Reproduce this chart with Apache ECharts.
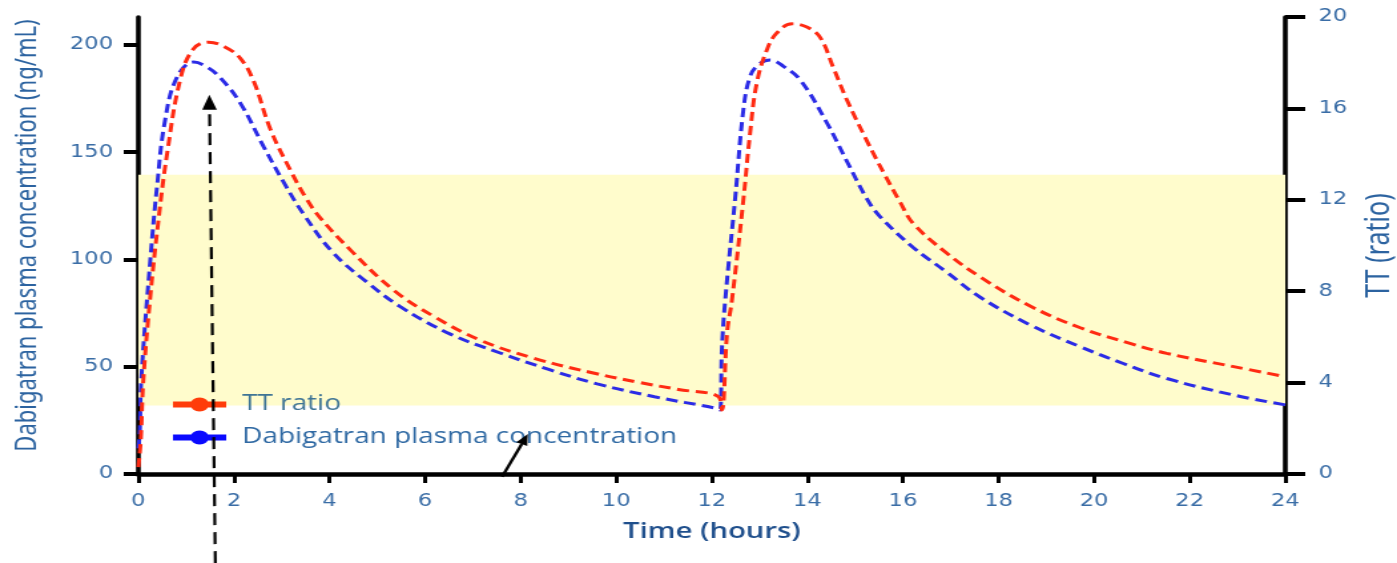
<!DOCTYPE html>
<html>
<head>
<meta charset="utf-8">
<script src="https://cdn.jsdelivr.net/npm/echarts@6/dist/echarts.min.js"></script>
<style>
html, body { margin: 0; padding: 0; background: #fff; overflow: hidden; }
/* the source figure is stretched sideways, so the chart is drawn narrow and widened */
#chart { width: 1050px; height: 563px; transform: scaleX(1.3305); transform-origin: 0 0; }
</style>
</head>
<body>
<div id="chart"></div>
<script>
// TT ratio (right axis)
var ttTime = [0, 0.05, 0.1, 0.25, 0.42, 0.6, 0.88, 1.15, 1.47, 1.8, 2.13, 2.41, 2.76, 3.18, 3.53,
    3.81, 4.44, 5.34, 6.18, 7.15, 8.27, 9.52, 10.5, 11.3, 12.14, 12.21, 12.32, 12.42, 12.66, 12.8,
    12.94, 13.15, 13.36, 13.68, 14.0, 14.27, 14.54, 14.82, 15.24, 15.63, 15.94, 16.22, 16.92, 17.61,
    18.66, 19.71, 20.75, 21.52, 22.92, 24];
var ttRatio = [0.3, 1.5, 4.0, 7.8, 11.1, 14.0, 17.3, 18.6, 18.9, 18.7, 18.2, 17.2, 15.1, 13.3, 12.0,
    11.2, 9.8, 8.05, 6.9, 5.86, 5.07, 4.42, 4.0, 3.7, 3.38, 2.8, 6.2, 7.6, 12.0, 14.9,
    17.1, 18.55, 19.3, 19.7, 19.55, 19.1, 17.8, 16.4, 14.6, 13.05, 11.9, 10.95, 9.66, 8.63,
    7.35, 6.4, 5.72, 5.28, 4.7, 4.26];

// dabigatran plasma concentration, ng/mL (left axis)
var concTime = [0, 0.03, 0.06, 0.25, 0.39, 0.56, 0.81, 1.16, 1.45, 1.72, 2.13, 2.62, 3.04, 3.46, 4.08,
    4.78, 5.48, 6.53, 7.57, 8.62, 9.6, 10.8, 12.1, 12.17, 12.21, 12.28, 12.49, 12.66, 12.8, 12.97,
    13.22, 13.5, 13.85, 14.41, 14.82, 15.24, 15.52, 16.22, 16.92, 17.61, 18.66, 19.71, 20.61, 21.52,
    22.92, 24];
var concValue = [12, 20, 44, 100, 134, 165, 185, 192, 189.5, 184.5, 173, 152.6, 136, 121, 103,
    89.5, 78, 65.2, 56.4, 48.5, 42, 36, 30.6, 29.8, 57.8, 81, 129, 169.7, 185.2, 190.7,
    193, 190, 183.7, 163.6, 146, 128.5, 120, 105.5, 94, 82.5, 69.5, 59.3, 51.5, 44.5,
    36.8, 32.2];

var concTicks = [0, 50, 100, 150, 200];
var ttBand = [3.0, 13.1];               // shaded range, TT ratio units
var peakArrow = [[1.61, -3.9], [1.485, 16.6]];   // [time, TT ratio]
var troughArrow = [[7.61, -0.12], [8.15, 1.75]];

var legendIcon = 'path://M0,4H40V10H0Z M27,7A7,7,0,1,1,13,7A7,7,0,1,1,27,7Z';
var tickColor = '#3a6da6';
var nameColor = '#2c63a0';

function pairs(xs, ys) {
    var res = [];
    for (var i = 0; i < xs.length; i++) res.push([xs[i], ys[i]]);
    return res;
}

var chart = echarts.init(document.getElementById('chart'));

chart.setOption({
    animation: false,
    grid: { left: 104, right: 84, top: 17, bottom: 89, outerBoundsMode: 'none' },
    legend: {
        orient: 'vertical',
        left: 125,
        top: 389,
        itemWidth: 40,
        itemHeight: 14,
        itemGap: 12,
        icon: legendIcon,
        itemStyle: { borderWidth: 0 },
        data: [
            { name: 'TT ratio', textStyle: { color: '#3e7495' } },
            { name: 'Dabigatran plasma concentration' }
        ],
        textStyle: { fontFamily: 'Open Sans', fontSize: 21, color: '#2f69a3', padding: [0, 0, 0, 7] }
    },
    xAxis: {
        type: 'value',
        min: 0,
        max: 24,
        interval: 2,
        name: 'Time (hours)',
        nameLocation: 'middle',
        nameGap: 47,
        nameTextStyle: { fontFamily: 'Open Sans', fontSize: 22, fontWeight: 600, color: '#1f4f8c' },
        axisLine: { lineStyle: { color: '#000', width: 4.5 } },
        axisTick: { length: 9, lineStyle: { color: '#000', width: 3 } },
        axisLabel: { margin: 19, fontFamily: 'DejaVu Sans', fontSize: 17, color: tickColor },
        splitLine: { show: false }
    },
    yAxis: [{
        type: 'value',
        min: 0,
        max: 213,
        name: 'Dabigatran plasma concentration (ng/mL)',
        nameLocation: 'middle',
        nameGap: 72,
        nameTextStyle: { fontFamily: 'Noto Sans', fontSize: 22, color: nameColor, padding: [0, 0, 0, 20] },
        axisLine: { show: true, lineStyle: { color: '#000', width: 3.6 } },
        axisTick: { length: 11, customValues: concTicks, lineStyle: { color: '#000', width: 4 } },
        axisLabel: { margin: 19, customValues: concTicks, fontFamily: 'DejaVu Sans', fontSize: 17, color: tickColor },
        splitLine: { show: false }
    }, {
        type: 'value',
        min: 0,
        max: 20,
        interval: 4,
        position: 'right',
        name: 'TT (ratio)',
        nameLocation: 'middle',
        nameRotate: 90,
        nameGap: 58,
        nameTextStyle: { fontFamily: 'Noto Sans', fontSize: 25, color: nameColor },
        axisLine: { show: true, lineStyle: { color: '#000', width: 3.6 } },
        axisTick: { length: 15, lineStyle: { color: '#000', width: 4 } },
        axisLabel: { margin: 25, fontFamily: 'DejaVu Sans', fontSize: 17, color: tickColor },
        splitLine: { show: false }
    }],
    series: [{
        name: 'Dabigatran plasma concentration',
        type: 'line',
        yAxisIndex: 0,
        data: pairs(concTime, concValue),
        smooth: 0.4,
        showSymbol: false,
        itemStyle: { color: '#0a0aff' },
        lineStyle: { color: '#2b2be6', width: 3, type: [9, 5] },
        z: 3
    }, {
        name: 'TT ratio',
        type: 'line',
        yAxisIndex: 1,
        data: pairs(ttTime, ttRatio),
        smooth: 0.4,
        showSymbol: false,
        itemStyle: { color: '#ff3c0a' },
        lineStyle: { color: '#ff2a12', width: 3, type: [9, 5] },
        markArea: {
            silent: true,
            itemStyle: { color: '#fffccc' },
            data: [[{ yAxis: ttBand[0] }, { yAxis: ttBand[1] }]]
        },
        z: 4
    }]
});

// annotation arrows, placed through the axes
function toPx(p) {
    return chart.convertToPixel({ xAxisIndex: 0, yAxisIndex: 1 }, p);
}

function arrow(points, headLen, headHalf, lineStyle) {
    var a = toPx(points[0]);
    var b = toPx(points[1]);
    var dx = b[0] - a[0], dy = b[1] - a[1];
    var len = Math.sqrt(dx * dx + dy * dy);
    var ux = dx / len, uy = dy / len;
    var base = [b[0] - ux * headLen, b[1] - uy * headLen];
    return [{
        type: 'line',
        shape: { x1: a[0], y1: a[1], x2: base[0], y2: base[1] },
        style: lineStyle,
        z: 10
    }, {
        type: 'polygon',
        shape: { points: [b, [base[0] - uy * headHalf, base[1] + ux * headHalf], [base[0] + uy * headHalf, base[1] - ux * headHalf]] },
        style: { fill: '#000' },
        z: 10
    }];
}

chart.setOption({
    graphic: arrow(peakArrow, 15, 5.5, { stroke: '#000', lineWidth: 2.2, lineDash: [12, 7] })
        .concat(arrow(troughArrow, 11, 4.5, { stroke: '#000', lineWidth: 2.4 }))
});
</script>
</body>
</html>
